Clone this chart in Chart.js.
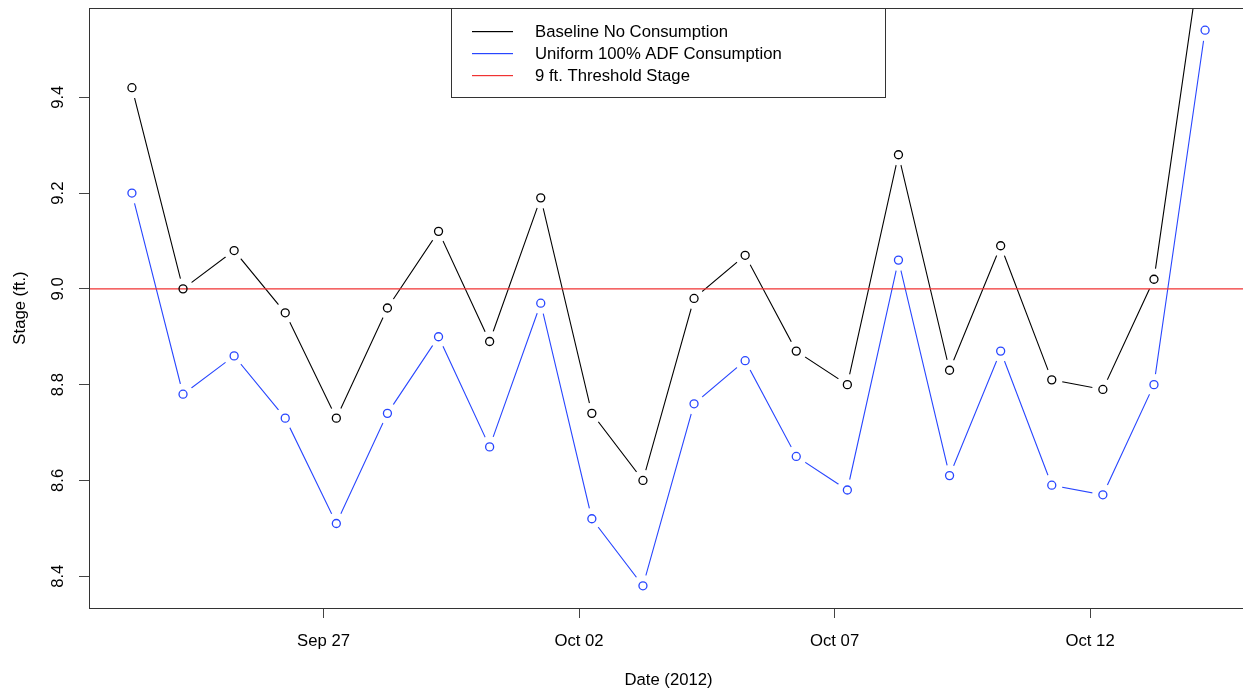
<!DOCTYPE html>
<html>
<head>
<meta charset="utf-8">
<title>Stage (ft.) – Sep/Oct 2012</title>
<script src="https://cdn.jsdelivr.net/npm/chart.js@4.4.1/dist/chart.umd.min.js"></script>
<style>
  html, body { margin: 0; padding: 0; background: #fff; overflow: hidden; }
  #wrap { position: relative; width: 1260px; height: 690px; }
</style>
</head>
<body>
<div id="wrap"><canvas id="stage"></canvas></div>
<script>
// Daily observation times (06:00 UTC) and river stage in feet
const obsTimes = [
  '2012-09-23T06:00:00Z', '2012-09-24T06:00:00Z', '2012-09-25T06:00:00Z', '2012-09-26T06:00:00Z',
  '2012-09-27T06:00:00Z', '2012-09-28T06:00:00Z', '2012-09-29T06:00:00Z', '2012-09-30T06:00:00Z',
  '2012-10-01T06:00:00Z', '2012-10-02T06:00:00Z', '2012-10-03T06:00:00Z', '2012-10-04T06:00:00Z',
  '2012-10-05T06:00:00Z', '2012-10-06T06:00:00Z', '2012-10-07T06:00:00Z', '2012-10-08T06:00:00Z',
  '2012-10-09T06:00:00Z', '2012-10-10T06:00:00Z', '2012-10-11T06:00:00Z', '2012-10-12T06:00:00Z',
  '2012-10-13T06:00:00Z', '2012-10-14T06:00:00Z'
];
const baselineStage = [9.42, 9.00, 9.08, 8.95, 8.73, 8.96, 9.12, 8.89, 9.19, 8.74, 8.60,
                       8.98, 9.07, 8.87, 8.80, 9.28, 8.83, 9.09, 8.81, 8.79, 9.02, 9.76];
const uniformStage  = [9.20, 8.78, 8.86, 8.73, 8.51, 8.74, 8.90, 8.67, 8.97, 8.52, 8.38,
                       8.76, 8.85, 8.65, 8.58, 9.06, 8.61, 8.87, 8.59, 8.57, 8.80, 9.54];
const thresholdStage = 9.0;

const xTickDates  = ['2012-09-27', '2012-10-02', '2012-10-07', '2012-10-12'];
const xTickLabels = ['Sep 27', 'Oct 02', 'Oct 07', 'Oct 12'];
const yTickValues = [8.4, 8.6, 8.8, 9.0, 9.2, 9.4];

const seriesNames = ['Baseline No Consumption', 'Uniform 100% ADF Consumption', '9 ft. Threshold Stage'];
const seriesColors = ['rgb(0,0,0)', 'rgb(40,70,255)', 'rgb(240,50,50)'];

const DAY = 86400000;
const toDays = s => Date.parse(s) / DAY;
const xDays = obsTimes.map(toDays);

// axis limits padded by 4% of the data range on each side
function padRange(vals) {
  const lo = Math.min(...vals), hi = Math.max(...vals), d = (hi - lo) * 0.04;
  return [lo - d, hi + d];
}
const [xMin, xMax] = padRange(xDays);
const [yMin, yMax] = padRange(uniformStage);

const pts = vals => vals.map((v, i) => ({ x: xDays[i], y: v }));
const FONT = { family: '"Liberation Sans", Arial, Helvetica, sans-serif', size: 16.7 };

const circles = (vals, c) => ({
  data: pts(vals), showLine: false, pointRadius: 4, pointHoverRadius: 4,
  pointBackgroundColor: 'rgba(0,0,0,0)', pointBorderColor: c, pointBorderWidth: 1.3
});
const seriesLine = (vals, c) => ({
  data: pts(vals), showLine: true, borderColor: c, borderWidth: 1.1,
  pointRadius: 0, tension: 0
});

// dataset indices of the connecting lines (drawn before the threshold and the markers)
const LINE_SETS = [3, 4];

// opens a small white gap between each connecting line and its own markers
const pointGaps = {
  id: 'pointGaps',
  afterDatasetDraw(chart, args) {
    if (!LINE_SETS.includes(args.index)) return;
    const { ctx, chartArea: a } = chart;
    ctx.save();
    ctx.beginPath();
    ctx.rect(a.left, a.top, a.right - a.left, a.bottom - a.top);
    ctx.clip();
    ctx.fillStyle = 'rgb(255,255,255)';
    args.meta.data.forEach(el => {
      const p = el.getProps(['x', 'y'], true);
      ctx.beginPath();
      ctx.arc(p.x, p.y, 10.7, 0, Math.PI * 2);
      ctx.fill();
    });
    ctx.restore();
  }
};

const frameAndLegend = {
  id: 'frameAndLegend',
  afterDraw(chart) {
    const { ctx, chartArea: a } = chart;
    ctx.save();
    ctx.strokeStyle = 'rgb(51,51,51)';
    ctx.lineWidth = 1;
    ctx.strokeRect(Math.round(a.left) + 0.5, Math.round(a.top) + 0.5,
                   Math.round(a.right - a.left), Math.round(a.bottom - a.top));
    // legend box
    const bx = 451.5, by = 8.5, bw = 434, bh = 89;
    ctx.fillStyle = 'rgb(255,255,255)';
    ctx.fillRect(bx, by, bw, bh);
    ctx.strokeRect(bx, by, bw, bh);
    ctx.font = `${FONT.size}px ${FONT.family}`;
    ctx.textBaseline = 'middle';
    ctx.textAlign = 'left';
    seriesNames.forEach((name, i) => {
      const yy = 31 + i * 22;
      ctx.fillStyle = seriesColors[i];
      ctx.fillRect(472, yy, 41, 1.2);
      ctx.fillStyle = 'rgb(0,0,0)';
      ctx.fillText(name, 535, yy + 1);
    });
    ctx.restore();
  }
};

new Chart(document.getElementById('stage'), {
  type: 'scatter',
  data: {
    datasets: [
      circles(baselineStage, seriesColors[0]),
      circles(uniformStage, seriesColors[1]),
      { data: [{ x: xMin, y: thresholdStage }, { x: xMax, y: thresholdStage }], showLine: true,
        borderColor: seriesColors[2], borderWidth: 1.1, pointRadius: 0 },
      seriesLine(baselineStage, seriesColors[0]),
      seriesLine(uniformStage, seriesColors[1])
    ]
  },
  options: {
    responsive: true,
    maintainAspectRatio: false,
    animation: false,
    events: [],
    layout: { padding: { top: 8, right: 12, left: 0, bottom: 0 } },
    plugins: { legend: { display: false }, tooltip: { enabled: false } },
    scales: {
      x: {
        type: 'linear', min: xMin, max: xMax,
        afterFit: s => { s.height = 82; s.paddingLeft = 0; s.paddingRight = 0; },
        afterBuildTicks: s => { s.ticks = xTickDates.map(d => ({ value: toDays(d + 'T00:00:00Z') })); },
        grid: { drawOnChartArea: false, tickLength: 10, tickColor: 'rgb(68,68,68)', lineWidth: 1 },
        border: { display: false },
        ticks: {
          font: FONT, color: 'rgb(0,0,0)', padding: 13, maxRotation: 0, autoSkip: false,
          callback: (v, i) => xTickLabels[i]
        },
        title: { display: true, text: 'Date (2012)', font: FONT, color: 'rgb(0,0,0)', padding: { top: 0, bottom: 0 } }
      },
      y: {
        type: 'linear', min: yMin, max: yMax,
        afterFit: s => { s.width = 89; s.paddingTop = 0; s.paddingBottom = 0; },
        afterBuildTicks: s => { s.ticks = yTickValues.map(v => ({ value: v })); },
        grid: { drawOnChartArea: false, tickLength: 10, tickColor: 'rgb(68,68,68)', lineWidth: 1 },
        border: { display: false },
        ticks: {
          font: FONT, color: 'rgb(0,0,0)', padding: 9, minRotation: 90, maxRotation: 90,
          crossAlign: 'center', autoSkip: false,
          callback: v => Number(v).toFixed(1)
        },
        title: { display: true, text: 'Stage (ft.)', font: FONT, color: 'rgb(0,0,0)', padding: { top: 10, bottom: 0 } }
      }
    }
  },
  plugins: [pointGaps, frameAndLegend]
});
</script>
</body>
</html>
